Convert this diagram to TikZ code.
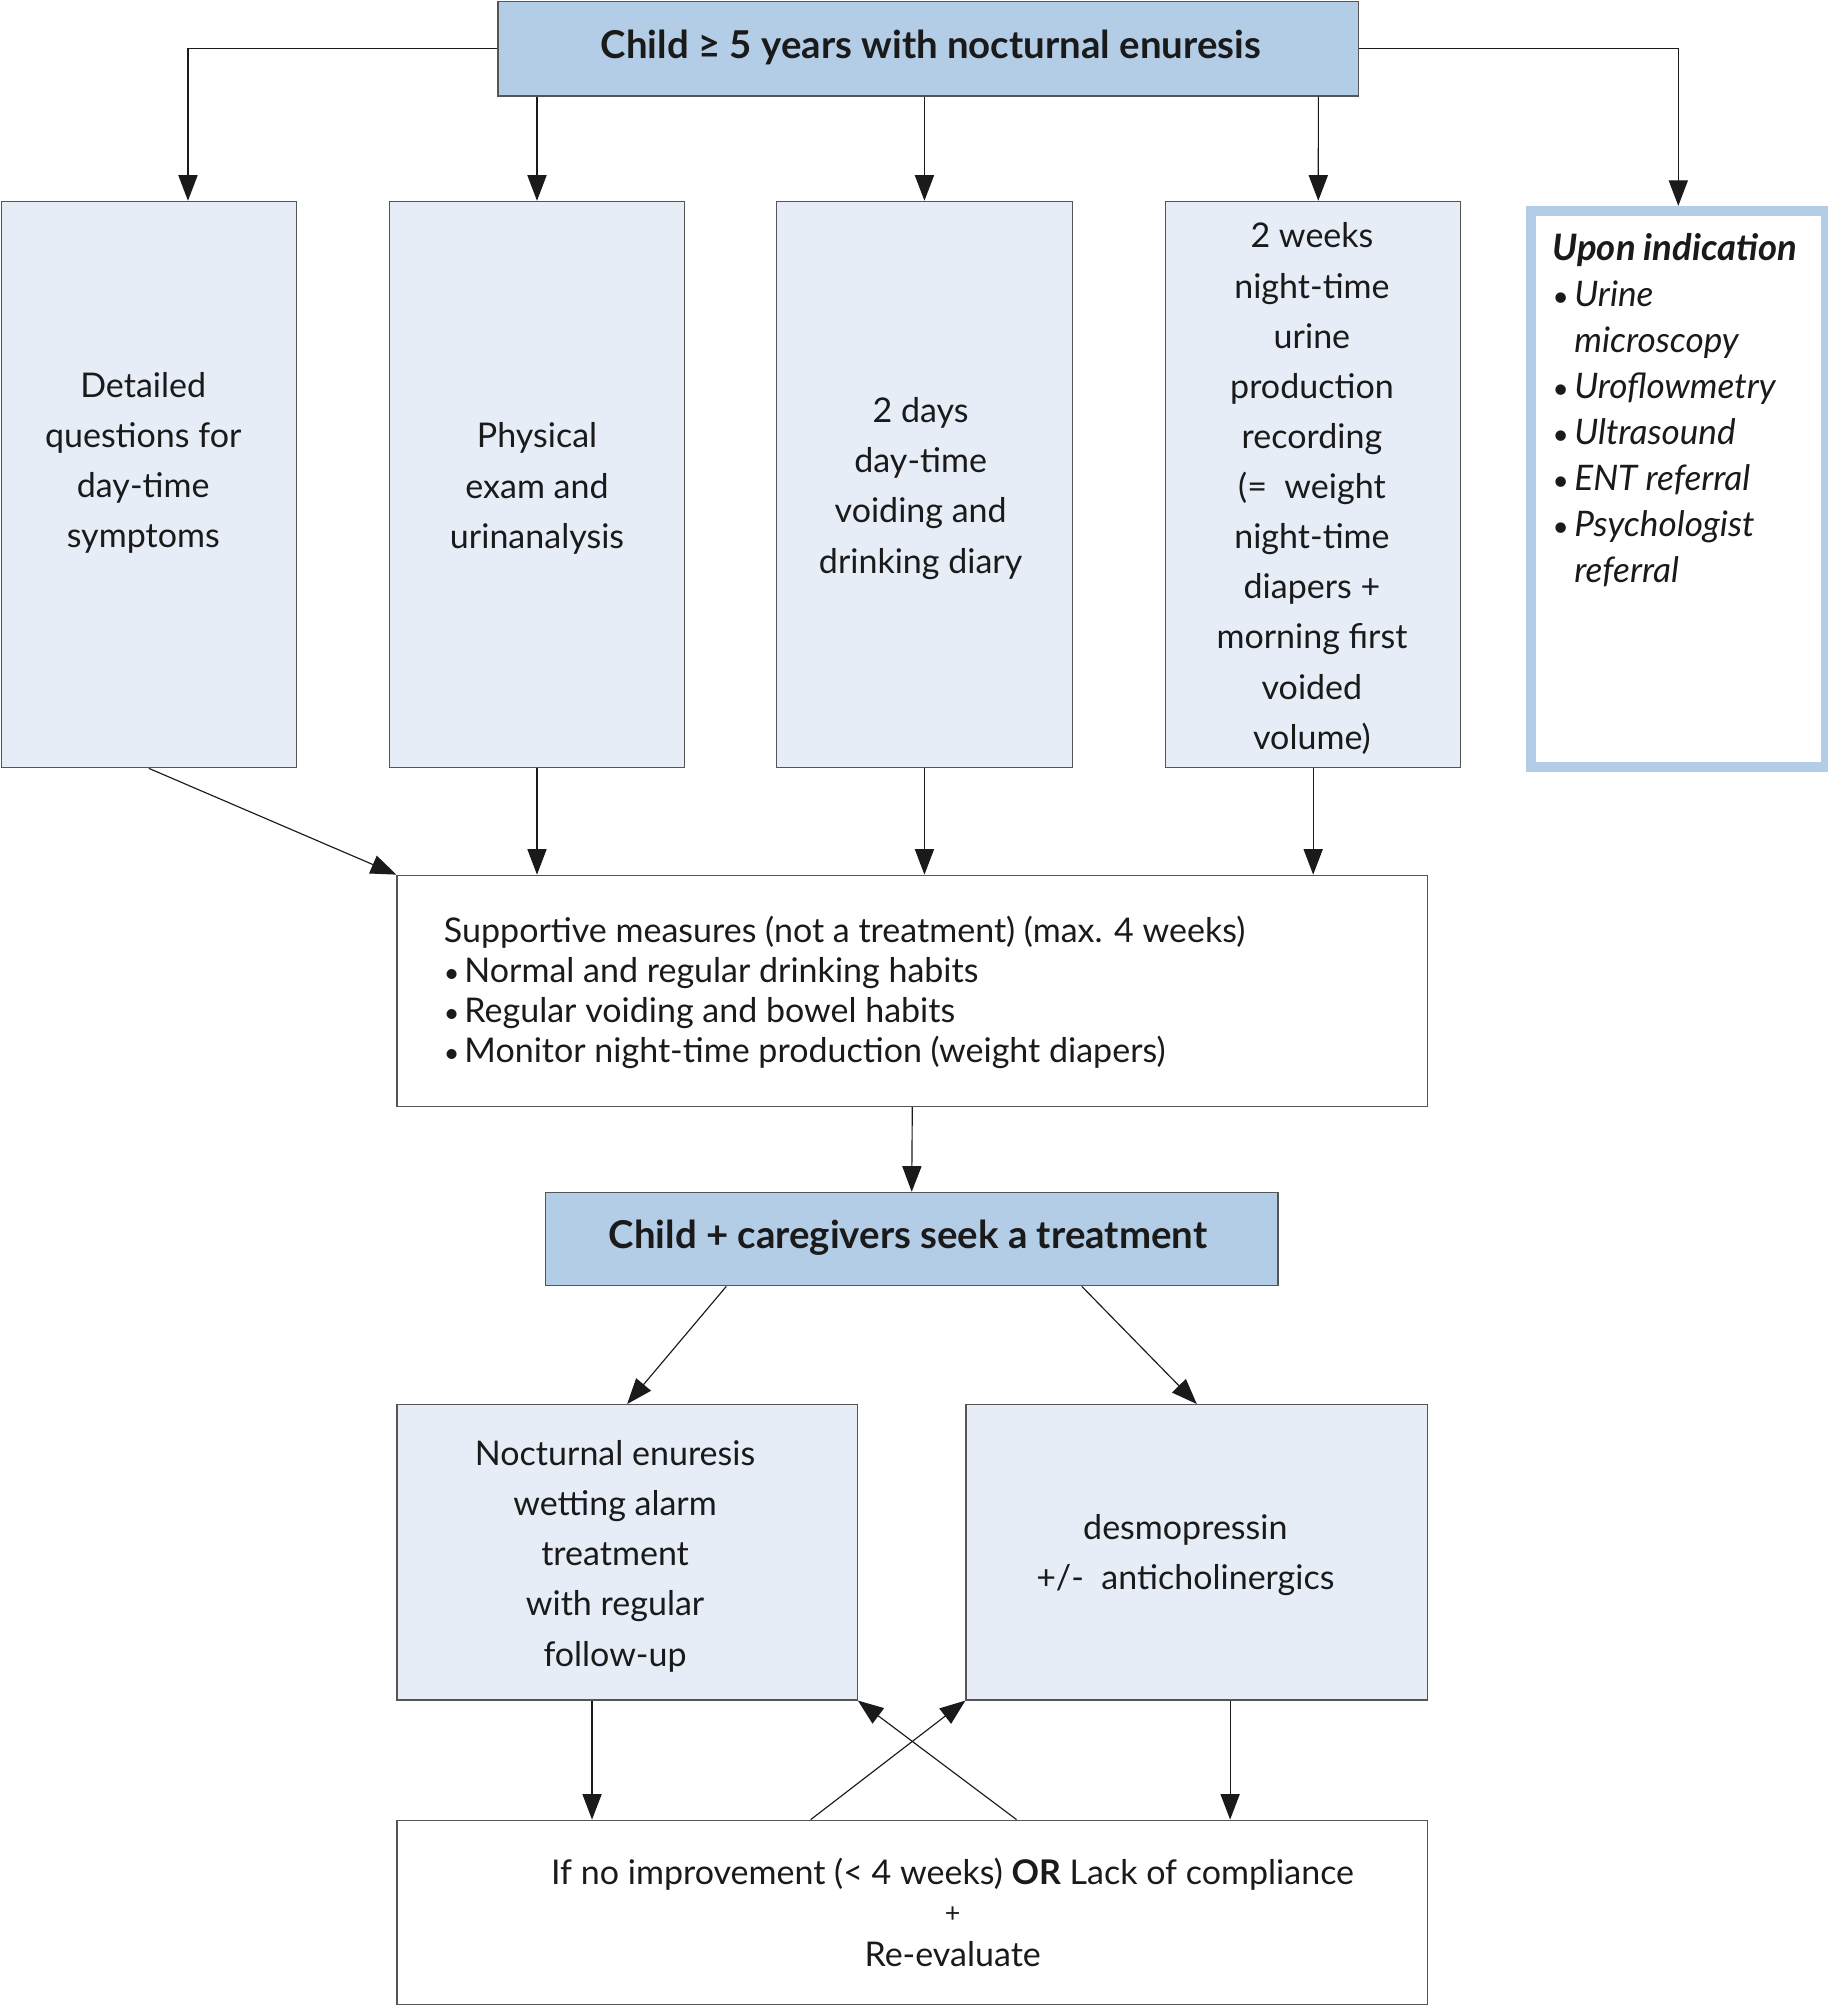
\documentclass[tikz,border=0pt]{standalone}
\usepackage{fontspec}
\setmainfont{Lato}
\usetikzlibrary{arrows.meta,calc}
\definecolor{hdr}{HTML}{B4CDE6}
\definecolor{lite}{HTML}{E6EDF7}
\definecolor{edge}{HTML}{555555}
\definecolor{ink}{HTML}{1A1A1A}
\tikzset{
 hbox/.style={draw=edge, fill=hdr, line width=1pt, anchor=north west, inner sep=0pt},
 lbox/.style={draw=edge, fill=lite, line width=0.9pt, anchor=north west, inner sep=0pt},
 wbox/.style={draw=edge, fill=white, line width=0.9pt, anchor=north west, inner sep=0pt},
 txt/.style={align=center, inner sep=0pt, text=ink, font=\fontsize{26.6}{39.2}\selectfont},
 ltxt/.style={align=left, inner sep=0pt, text=ink, anchor=north west},
 ttl/.style={inner sep=0pt, text=ink, font=\bfseries\fontsize{30}{36}\selectfont},
 arr/.style={draw=ink, line width=0.9pt, -{Triangle[length=20pt,width=15pt]}},
}
\begin{document}
\begin{tikzpicture}[x=1pt,y=-1pt]
\useasboundingbox (0,0) rectangle (1429,1568);
% boxes
\node[hbox, minimum width=673pt, minimum height=74pt] (top) at (389,0.5) {};
\node[lbox, minimum width=231pt, minimum height=443pt] (b1) at (0.5,157) {};
\node[lbox, minimum width=231pt, minimum height=443pt] (b2) at (304,157) {};
\node[lbox, minimum width=231pt, minimum height=443pt] (b3) at (607,157) {};
\node[lbox, minimum width=231pt, minimum height=443pt] (b4) at (911,157) {};
\node[draw=hdr, fill=white, line width=8pt, anchor=north west, inner sep=0pt, minimum width=231pt, minimum height=435pt] (b5) at (1193,161) {};
\node[wbox, minimum width=806pt, minimum height=181pt] (sup) at (310,684) {};
\node[hbox, minimum width=573pt, minimum height=73pt] (care) at (426,932) {};
\node[lbox, minimum width=360pt, minimum height=231pt] (noct) at (310,1098) {};
\node[lbox, minimum width=361pt, minimum height=231pt] (desmo) at (755,1098) {};
\node[wbox, minimum width=806pt, minimum height=144pt] (eval) at (310,1423) {};
% texts
\node[ttl] (ttop) at (728,37) {Child ≥ 5 years with nocturnal enuresis};
\node[txt] (t1) at (112,362) {Detailed\\questions for\\day-time\\symptoms};
\node[txt] (t2) at (420,382) {Physical\\exam and\\urinanalysis};
\node[txt] (t3) at (720,382) {2 days\\day-time\\voiding and\\drinking diary};
\node[txt] (t4) at (1026,382) {2 weeks\\night-time\\urine\\production\\recording\\(= \ weight\\night-time\\diapers +\\morning first\\voided\\volume)};
\node[ltxt, font=\itshape\fontsize{27.5}{36}\selectfont] (t5) at (1214,182) {{\bfseries\fontsize{28.5}{36}\selectfont Upon indication}\\
\makebox[17pt][l]{\fontsize{22}{36}\selectfont•}Urine\\\hspace*{17pt}microscopy\\
\makebox[17pt][l]{\fontsize{22}{36}\selectfont•}Uroflowmetry\\
\makebox[17pt][l]{\fontsize{22}{36}\selectfont•}Ultrasound\\
\makebox[17pt][l]{\fontsize{22}{36}\selectfont•}ENT referral\\
\makebox[17pt][l]{\fontsize{22}{36}\selectfont•}Psychologist\\\hspace*{17pt}referral};
\node[ltxt, font=\fontsize{26.6}{31.3}\selectfont] (tsup) at (347,716) {Supportive measures (not a treatment) (max. 4 weeks)\\
\makebox[16pt][l]{\fontsize{21}{31}\selectfont•}Normal and regular drinking habits\\
\makebox[16pt][l]{\fontsize{21}{31}\selectfont•}Regular voiding and bowel habits\\
\makebox[16pt][l]{\fontsize{21}{31}\selectfont•}Monitor night-time production (weight diapers)};
\node[ttl] (tcare) at (710,968) {Child + caregivers seek a treatment};
\node[txt] (tnoct) at (481,1217) {Nocturnal enuresis\\wetting alarm\\treatment\\with regular\\follow-up};
\node[txt] (tdesmo) at (927,1216) {desmopressin\\+/- \ anticholinergics};
\node[txt] (teval1) at (745,1466) {If no improvement (< 4 weeks) \textbf{OR} Lack of compliance};
\node[txt, font=\fontsize{21}{24}\selectfont] (teval2) at (745,1497) {+};
\node[txt] (teval3) at (745,1528) {Re-evaluate};
% connectors
\coordinate (a1) at (147,157);
\draw[arr] (top.west) -| (a1);
\draw[arr] (top.south -| b2.north) -- (b2.north);
\draw[arr] (top.south -| b3.north) -- (b3.north);
\draw[arr] ($(top.south east)+(-32,0)$) -- ($(b4.north)+(4,0)$);
\draw[arr] (top.east) -| (b5.north);
\draw[arr] (b1.south) -- (sup.north west);
\draw[arr] (b2.south) -- (sup.north -| b2.south);
\draw[arr] (b3.south) -- (sup.north -| b3.south);
\draw[arr] (b4.south) -- (sup.north -| b4.south);
\draw[arr] (sup.south) -- (care.north);
\draw[arr] ($(care.south west)+(142,0)$) -- (noct.north);
\draw[arr] ($(care.south east)+(-154,0)$) -- (desmo.north);
\draw[arr] ($(noct.south west)+(153,0)$) -- (eval.north -| {$(noct.south west)+(153,0)$});
\draw[arr] ($(desmo.south west)+(207,0)$) -- (eval.north -| {$(desmo.south west)+(207,0)$});
\draw[arr] ($(eval.north west)+(324,0)$) -- (desmo.south west);
\draw[arr] ($(eval.north west)+(485,0)$) -- (noct.south east);
\end{tikzpicture}
\end{document}
